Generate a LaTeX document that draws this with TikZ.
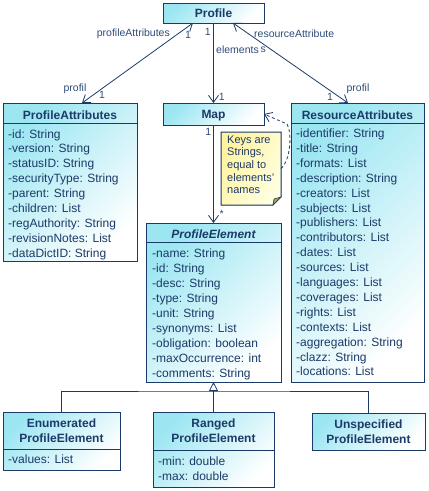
\documentclass[tikz,border=0pt]{standalone}
\usepackage{fontspec}
\setmainfont{Liberation Sans}
\usetikzlibrary{arrows.meta}
\definecolor{umlnavy}{RGB}{27,58,104}
\definecolor{umlcyan}{RGB}{156,230,242}
\definecolor{notelight}{RGB}{255,255,225}
\definecolor{noteyel}{RGB}{255,243,160}
\definecolor{foldolive}{RGB}{168,158,82}
\definecolor{lblcol}{RGB}{45,75,120}
\begin{document}
\begin{tikzpicture}[x=1pt,y=-1pt,
  classbox/.style={draw=umlnavy, line width=1pt, top color=umlcyan, bottom color=white, shading angle=45,
    anchor=north west, inner sep=0pt, outer sep=0pt},
  sepline/.style={draw=umlnavy, line width=1pt},
  hdr/.style={anchor=base, inner sep=0pt, text=umlnavy, font=\fontsize{12}{15}\selectfont\bfseries},
  attr/.style={anchor=base west, inner sep=0pt, text=umlnavy, font=\fontsize{12}{15}\selectfont},
  lbl/.style={inner sep=0pt, text=lblcol, font=\fontsize{10.5}{15}\selectfont},
  notetext/.style={anchor=base west, inner sep=0pt, text=umlnavy, font=\fontsize{11}{13}\selectfont},
  conn/.style={draw=umlnavy, line width=0.8pt},
  vtip/.tip={Straight Barb[length=7pt,width=10pt]},
  assoc2/.style={conn, vtip-vtip},
  assoc1/.style={conn, -vtip},
  noteconn/.style={conn, dash pattern=on 3pt off 2.5pt, -vtip},
]
\useasboundingbox (0,0) rectangle (429,491);

% ---------- class boxes ----------
\node[classbox, minimum width=101, minimum height=20] (profile) at (163,3) {};
\node[hdr] (profile-h) at (213.5,17) {Profile};

\node[classbox, minimum width=101, minimum height=22] (map) at (163,103) {};
\node[hdr] (map-h) at (213.5,118.5) {Map};

\node[classbox, minimum width=134, minimum height=158] (pa) at (3,103) {};
\draw[sepline] (pa.west |- 0,123) -- (pa.east |- 0,123);
\node[hdr] (pa-h) at (70,119) {ProfileAttributes};
\foreach \t [count=\i] in {{-id: String},{-version: String},{-statusID: String},{-securityType: String},
  {-parent: String},{-children: List},{-regAuthority: String},{-revisionNotes: List},{-dataDictID: String}}
  \node[attr] (pa-a\i) at (8,{138+14.9*(\i-1)}) {\t};

\node[classbox, minimum width=133, minimum height=279] (ra) at (291,103) {};
\draw[sepline] (ra.west |- 0,123) -- (ra.east |- 0,123);
\node[hdr] (ra-h) at (357.5,119) {ResourceAttributes};
\foreach \t [count=\i] in {{-identifier: String},{-title: String},{-formats: List},{-description: String},
  {-creators: List},{-subjects: List},{-publishers: List},{-contributors: List},{-dates: List},
  {-sources: List},{-languages: List},{-coverages: List},{-rights: List},{-contexts: List},
  {-aggregation: String},{-clazz: String},{-locations: List}}
  \node[attr] (ra-a\i) at (296,{137.5+14.9*(\i-1)}) {\t};

\node[classbox, minimum width=135, minimum height=159] (pe) at (146,223) {};
\draw[sepline] (pe.west |- 0,242) -- (pe.east |- 0,242);
\node[hdr, font=\fontsize{12}{15}\selectfont\bfseries\itshape] (pe-h) at (213.5,238.3) {ProfileElement};
\foreach \t [count=\i] in {{-name: String},{-id: String},{-desc: String},{-type: String},{-unit: String},
  {-synonyms: List},{-obligation: boolean},{-maxOccurrence: int},{-comments: String}}
  \node[attr] (pe-a\i) at (152,{257+15*(\i-1)}) {\t};

\node[classbox, minimum width=117, minimum height=58] (enum) at (3,412) {};
\draw[sepline] (enum.west |- 0,449) -- (enum.east |- 0,449);
\node[hdr] (enum-h1) at (61.5,427.6) {Enumerated};
\node[hdr] (enum-h2) at (61.5,442.6) {ProfileElement};
\node[attr] (enum-a1) at (8,463.6) {-values: List};

\node[classbox, minimum width=121, minimum height=75] (ranged) at (153,412) {};
\draw[sepline] (ranged.west |- 0,450) -- (ranged.east |- 0,450);
\node[hdr] (ranged-h1) at (213.5,427.6) {Ranged};
\node[hdr] (ranged-h2) at (213.5,442.2) {ProfileElement};
\node[attr] (ranged-a1) at (158,465) {-min: double};
\node[attr] (ranged-a2) at (158,480) {-max: double};

\node[classbox, minimum width=113, minimum height=37] (unspec) at (312,413) {};
\node[hdr] (unspec-h1) at (368.5,428.6) {Unspecified};
\node[hdr] (unspec-h2) at (368.5,443.2) {ProfileElement};

% ---------- note ----------
\node[anchor=north west, inner sep=0pt, outer sep=0pt, minimum width=60, minimum height=73] (note) at (221,132) {};
\fill[left color=noteyel, right color=notelight, shading angle=60]
  (note.north west) -- (note.north east) -- ([yshift=8pt]note.south east) -- ([xshift=-8pt]note.south east)
  -- (note.south west) -- cycle;
\draw[draw=umlnavy, line width=1pt]
  (note.north west) -- (note.north east) -- ([yshift=8pt]note.south east) -- ([xshift=-8pt]note.south east)
  -- (note.south west) -- cycle;
\filldraw[fill=foldolive, draw=umlnavy, line width=0.6pt]
  ([yshift=8pt]note.south east) -- ([xshift=-8pt]note.south east) -- ([xshift=-7pt,yshift=6pt]note.south east) -- cycle;
\foreach \t [count=\i] in {{Keys are},{Strings,},{equal to},{elements'},{names}}
  \node[notetext] (note-t\i) at (227,{143+12.7*(\i-1)}) {\t};

% ---------- connectors ----------
\draw[assoc2] ([xshift=30pt]profile.south west) -- ([xshift=79pt]pa.north west);
\draw[assoc1] (profile.south) -- (map.north);
\draw[assoc2] ([xshift=70pt]profile.south west) -- ([xshift=57pt]ra.north west);
\draw[assoc1] (map.south) -- (pe.north);
\draw[noteconn] (note.east) .. controls (291,160) and (292,132) .. (287,124) -- (map.east);

\coordinate (hbar) at (213.5,391);
\draw[conn] (enum.north) |- (hbar) -| (unspec.north);
\draw[conn, -{Triangle[open, length=9pt, width=9pt]}] (ranged.north) -- (pe.south);

% ---------- connector labels ----------
\node[lbl, anchor=east] (l-pa-role) at (170,33.5) {profileAttributes};
\node[lbl] (l-pa-m1) at (188,35) {1};
\node[lbl] (l-pa-role2) at (75,88.5) {profil};
\node[lbl] (l-pa-m2) at (102,95) {1};
\node[lbl] (l-el-m1) at (207.7,31.7) {1};
\node[lbl, anchor=west] (l-el-role) at (216,50) {elements};
\node[lbl] (l-el-m2) at (221.7,96.7) {1};
\node[lbl, anchor=base west] (l-ra-role) at (254,37.2) {resourceAttribute};
\node[lbl, anchor=base west] (l-ra-role-b) at (260.5,52.2) {s};
\node[lbl] (l-ra-role2) at (358,88.5) {profil};
\node[lbl] (l-ra-m) at (330,97.3) {1};
\node[lbl] (l-pe-m1) at (208.3,132.3) {1};
\node[lbl] (l-pe-m2) at (221.7,214) {*};
\end{tikzpicture}
\end{document}
